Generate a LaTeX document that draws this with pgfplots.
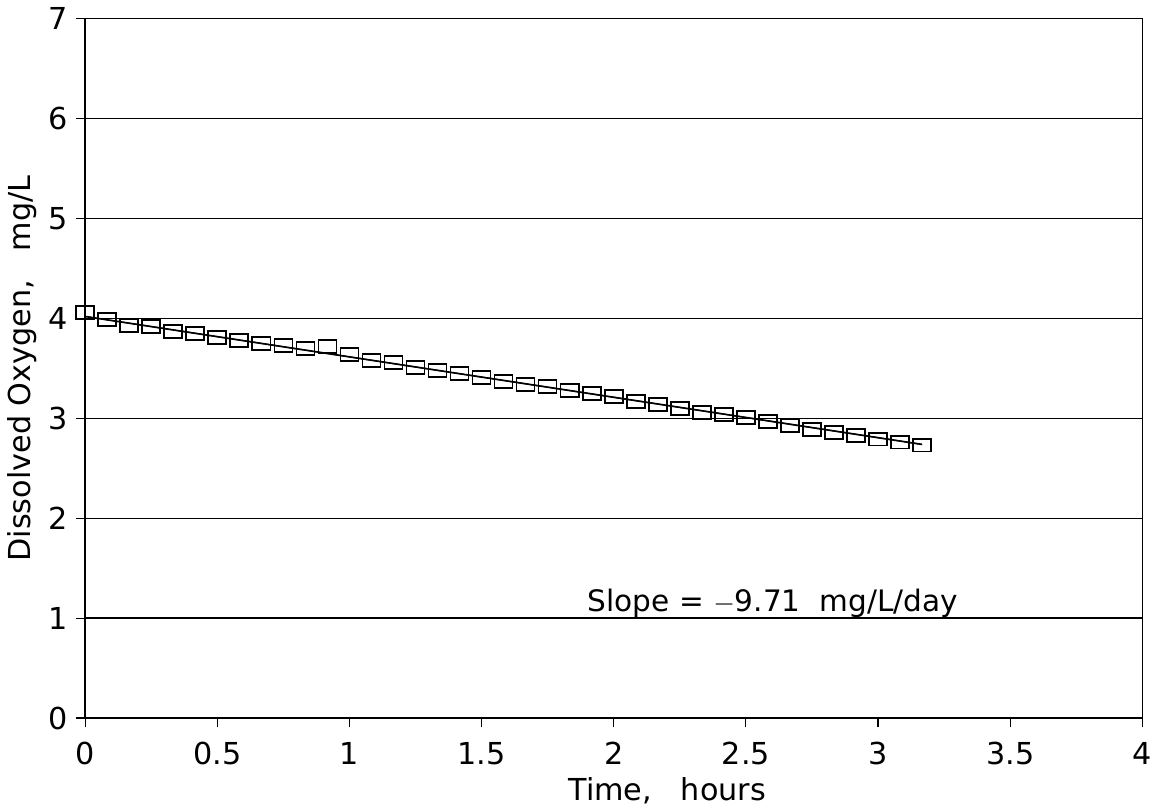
\documentclass[border=0pt]{standalone}
\usepackage{pgfplots}
\pgfplotsset{compat=1.18}
\usepackage{fontspec}
\setmainfont{DejaVu Sans}
\begin{document}
\begin{tikzpicture}
\begin{axis}[
  scale only axis,
  width=454.5pt, height=300.6pt,
  xmin=0, xmax=4, ymin=0, ymax=7,
  xtick={0,0.5,...,4},
  ytick={0,1,...,7},
  xticklabels={0,0.5,1,1.5,2,2.5,3,3.5,4},
  ymajorgrids=true,
  major grid style={black, line width=0.6pt},
  tick align=outside,
  xtick pos=bottom, ytick pos=left,
  major tick length=4pt,
  tick style={black, line width=0.5pt},
  axis line style={black, line width=0.6pt},
  /pgf/number format/assume math mode=true,
  ticklabel style={font=\fontsize{13}{15}\selectfont},
  xticklabel style={yshift=-3pt, inner xsep=0pt},
  label style={font=\fontsize{13}{15}\selectfont},
  xlabel={Time,\ \ \ hours},
  ylabel={Dissolved Oxygen,\ \ \ mg/L},
  xlabel style={yshift=0pt, xshift=23pt, inner ysep=1.5pt},
  ylabel style={yshift=-2pt},
  clip=false,
]
\addplot[black, line width=0.7pt] coordinates {(0,4.02) (3.1667,2.739)};
\addplot[only marks, mark=square, mark size=2.73pt, mark options={xscale=1.42, black, line width=0.7pt, fill=white}] coordinates {
(0.0000,4.06) (0.0833,3.99) (0.1667,3.93) (0.2500,3.92) (0.3333,3.87)
(0.4167,3.85) (0.5000,3.81) (0.5833,3.78) (0.6667,3.75) (0.7500,3.73)
(0.8333,3.70) (0.9167,3.72) (1.0000,3.64) (1.0833,3.58) (1.1667,3.56)
(1.2500,3.51) (1.3333,3.48) (1.4167,3.45) (1.5000,3.41) (1.5833,3.37)
(1.6667,3.34) (1.7500,3.32) (1.8333,3.28) (1.9167,3.25) (2.0000,3.22)
(2.0833,3.17) (2.1667,3.14) (2.2500,3.10) (2.3333,3.06) (2.4167,3.04)
(2.5000,3.01) (2.5833,2.97) (2.6667,2.93) (2.7500,2.89) (2.8333,2.86)
(2.9167,2.83) (3.0000,2.79) (3.0833,2.76) (3.1667,2.73)
};
\addplot[black, line width=0.5pt] coordinates {(0,4.02) (3.1667,2.739)};
\node[anchor=west, inner xsep=0pt, font=\fontsize{12.7}{15}\selectfont] at (axis cs:1.90,1.15) {Slope = $-$9.71\ \ mg/L/day};
\end{axis}
\end{tikzpicture}
\end{document}
